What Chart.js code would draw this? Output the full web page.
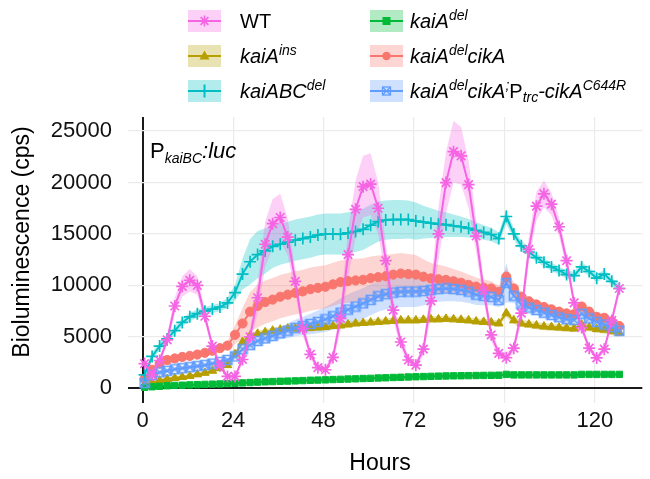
<!DOCTYPE html>
<html>
<head>
<meta charset="utf-8">
<script src="https://cdn.jsdelivr.net/npm/chart.js@4.4.1/dist/chart.umd.min.js"></script>
<style>
  html, body { margin: 0; padding: 0; background: #fff; }
  #wrap { position: relative; width: 650px; height: 479px; font-family: "Liberation Sans", Arial, sans-serif; color: #000; }
  #chart { position: absolute; left: 0; top: 0; }
  .key { position: absolute; width: 33px; height: 22px; }
  .lab { position: absolute; font-size: 20px; line-height: 22px; white-space: nowrap; }
  .lab sup { font-size: 14px; line-height: 0; vertical-align: 8px; }
  .lab sub { font-size: 14px; line-height: 0; vertical-align: -4px; }
  #note { position: absolute; left: 150px; top: 140px; font-size: 22px; line-height: 1; white-space: nowrap; }
  #note sub { font-size: 14px; line-height: 0; vertical-align: -5px; }
</style>
</head>
<body>
<div id="wrap">
  <canvas id="chart" width="650" height="479"></canvas>
  <div id="legend"></div>
  <div id="note">P<sub><i>kaiBC</i></sub><i>:luc</i></div>
</div>
<script>
// sampling times (hours)
const hours = [0.5,2.5,4.5,6.5,8.5,10.5,12.5,14.5,16.5,18.5,20.5,22.5,24.5,26.5,28.5,30.5,32.5,34.5,36.5,38.5,40.5,42.5,44.5,46.5,48.5,50.5,52.5,54.5,56.5,58.5,60.5,62.5,64.5,66.5,68.5,70.5,72.5,74.5,76.5,78.5,80.5,82.5,84.5,86.5,88.5,90.5,92.5,94.5,96.5,98.5,100.5,102.5,104.5,106.5,108.5,110.5,112.5,114.5,116.5,118.5,120.5,122.5,124.5,126.5];

// WT
const wtMean = [2400,1300,2700,4700,8000,9900,10500,10000,7000,4100,2200,1150,1150,2800,5000,8800,14000,16000,16600,14700,10400,5800,3300,2000,1800,3000,6800,13000,17400,19600,19850,17500,12400,7600,4500,2750,2250,3800,8500,15000,20000,23000,22600,19800,14800,9500,5200,3400,2970,3900,7300,13500,17700,18900,17900,15700,12400,8300,5900,3900,2950,3800,6600,9700];
const wtSd = [300,200,300,500,800,1000,1100,900,600,400,250,150,150,400,800,1500,2200,2400,2300,1800,1200,700,400,250,250,500,1200,2300,2800,3000,3000,2500,1700,1000,600,350,300,600,1500,2600,3000,3000,2800,2300,1600,1000,600,400,350,500,900,1300,1400,1300,1100,900,700,500,400,300,250,300,400,500];

// kaiA ins
const insMean = [300,550,750,900,1000,1100,1200,1350,1500,1700,1950,2250,3300,4500,5100,5300,5450,5600,5700,5800,5800,5850,5850,5900,5950,6050,6100,6200,6300,6350,6400,6450,6500,6550,6600,6600,6600,6650,6700,6700,6750,6700,6650,6600,6500,6450,6400,6300,7300,6600,6300,6200,6100,6000,5950,5900,5850,5800,6200,5900,5750,5700,5550,5400];
const insSd = [150,150,150,150,150,150,150,150,150,150,150,150,200,300,300,300,300,300,300,300,300,300,300,300,300,300,300,300,300,300,300,300,300,300,300,300,300,300,300,300,300,300,300,300,300,300,300,300,400,350,350,350,350,350,350,350,350,350,350,350,350,400,400,400];

// kaiABC del
const abcMean = [1300,3100,4100,4800,5600,6400,6950,7250,7500,7700,7900,8300,9300,11100,12300,13000,13350,13800,14000,14200,14400,14550,14700,14900,15000,15000,14980,15100,15250,15450,15850,16200,16350,16400,16400,16400,16250,16150,16050,15950,15900,15800,15700,15550,15350,15150,14950,14550,16700,15000,13850,13250,12700,12250,11800,11450,11050,10950,11800,11350,10700,11100,10400,9700];
const abcSd = [300,400,400,400,400,400,400,400,400,400,400,500,800,1500,2200,2300,2200,2100,2000,2000,2000,2000,2000,2000,2000,2000,2000,2000,2000,2000,2000,1950,1900,1900,1900,1850,1800,1600,1450,1300,1200,1100,1000,900,800,700,650,600,700,550,500,450,400,400,400,400,400,400,450,400,400,400,400,400];

// kaiA del
const delMean = [100,150,200,250,280,300,330,350,380,400,420,450,480,520,560,600,630,650,680,700,720,750,780,800,820,850,870,900,920,950,970,1000,1020,1050,1070,1100,1120,1140,1160,1180,1200,1210,1220,1230,1240,1250,1260,1270,1350,1300,1300,1300,1300,1300,1300,1300,1300,1300,1350,1350,1350,1350,1350,1350];
const delSd = [80,80,80,80,80,80,80,80,80,80,80,80,80,80,80,80,80,80,80,80,80,80,80,80,80,80,80,80,80,80,80,80,80,80,80,80,80,80,80,80,80,80,80,80,80,80,80,80,80,80,80,80,80,80,80,80,80,80,80,80,80,80,80,80];

// kaiA del cikA
const cikMean = [900,1800,2400,2750,2900,3050,3150,3280,3450,3650,3900,4150,5200,6300,7450,8000,8380,8620,8900,9100,9270,9420,9630,9760,9870,10100,10330,10420,10480,10550,10700,10800,10900,11050,11150,11100,11050,10850,10680,10600,10530,10400,10250,10050,9880,9780,9700,9380,10850,9700,8900,8450,8150,7900,7670,7450,7280,7200,7950,7450,6950,6850,6500,6050];
const cikSd = [300,300,300,300,300,300,300,300,300,300,300,400,900,1500,1900,2100,2100,2100,2100,2100,2100,2100,2100,2100,2100,2100,2100,2100,2100,2100,2100,2100,2050,2000,2000,1950,1900,1700,1500,1400,1300,1200,1100,1000,900,800,700,600,800,600,500,450,400,400,400,400,400,400,450,400,400,400,400,400];

// kaiA del cikA; Ptrc-cikA C644R
const c644Mean = [500,1300,1550,1700,1850,1950,2050,2150,2250,2400,2550,2750,3100,3800,4200,4600,4850,5100,5350,5600,5850,6050,6250,6450,6700,7000,7350,7650,7950,8250,8600,8950,9150,9300,9380,9400,9400,9450,9550,9650,9700,9650,9560,9400,9100,8980,8880,8570,10250,9000,8150,7850,7600,7350,7120,6900,6720,6650,7250,6800,6450,6200,5950,5600];
const c644Sd = [200,200,200,200,200,200,200,200,200,200,200,200,300,400,400,450,500,550,600,700,800,900,1000,1100,1200,1300,1400,1500,1500,1500,1500,1500,1500,1500,1500,1500,1500,1400,1300,1250,1250,1200,1150,1100,1000,900,800,700,1900,700,550,450,450,450,450,450,450,450,500,450,450,450,450,450];

// axis ticks
const xTicks = [0, 24, 48, 72, 96, 120];
const yTicks = [0, 5000, 10000, 15000, 20000, 25000];

const FONT = '"Liberation Sans", Arial, sans-serif';

// small square-with-X marker (for the C644R line)
function boxCross(color) {
    const c = document.createElement('canvas');
    c.width = 12; c.height = 12;
    const g = c.getContext('2d');
    g.strokeStyle = color;
    g.lineWidth = 1.5;
    g.strokeRect(1.5, 1.5, 9, 9);
    g.beginPath();
    g.moveTo(1.5, 1.5); g.lineTo(10.5, 10.5);
    g.moveTo(10.5, 1.5); g.lineTo(1.5, 10.5);
    g.stroke();
    return c;
}

const series = [
    { name: 'WT', mean: wtMean, sd: wtSd, color: '#F564E3', band: 'rgba(245,100,227,0.3)', style: 'star', r: 6, filled: false, order: 0,
      label: 'WT', col: 0, row: 0 },
    { name: 'kaiA-ins', mean: insMean, sd: insSd, color: '#B79F00', band: 'rgba(183,159,0,0.3)', style: 'triangle', r: 5, filled: true, order: 5,
      label: '<i>kaiA<sup>ins</sup></i>', col: 0, row: 1 },
    { name: 'kaiABC-del', mean: abcMean, sd: abcSd, color: '#00BFC4', band: 'rgba(0,191,196,0.3)', style: 'cross', r: 6, filled: false, order: 2,
      label: '<i>kaiABC<sup>del</sup></i>', col: 0, row: 2 },
    { name: 'kaiA-del', mean: delMean, sd: delSd, color: '#00BA38', band: 'rgba(0,186,56,0.3)', style: 'rect', r: 4.5, filled: true, order: 3,
      label: '<i>kaiA<sup>del</sup></i>', col: 1, row: 0 },
    { name: 'kaiA-del cikA', mean: cikMean, sd: cikSd, color: '#F8766D', band: 'rgba(248,118,109,0.3)', style: 'circle', r: 4.6, filled: true, order: 4,
      label: '<i>kaiA<sup>del</sup>cikA</i>', col: 1, row: 1 },
    { name: 'kaiA-del cikA; Ptrc-cikA C644R', mean: c644Mean, sd: c644Sd, color: '#619CFF', band: 'rgba(97,156,255,0.3)', style: 'boxcross', r: 4.5, filled: false, order: 1,
      label: '<i>kaiA<sup>del</sup>cikA<sup>;</sup></i>P<sub><i>trc</i></sub><i>-cikA<sup>C644R</sup></i>', col: 1, row: 2 }
];

// ribbons first (upper bound + lower bound filled to it), then the lines
const datasets = [];
series.forEach((s, i) => {
    datasets.push({
        label: s.name + ' upper',
        data: hours.map((h, k) => ({ x: h, y: s.mean[k] + s.sd[k] })),
        borderWidth: 0, pointRadius: 0, fill: false, order: 20 + i
    });
    datasets.push({
        label: s.name + ' lower',
        data: hours.map((h, k) => ({ x: h, y: s.mean[k] - s.sd[k] })),
        borderWidth: 0, pointRadius: 0, fill: '-1', backgroundColor: s.band, order: 20 + i
    });
});
series.forEach(s => {
    datasets.push({
        label: s.name,
        data: hours.map((h, k) => ({ x: h, y: s.mean[k] })),
        borderColor: s.color,
        backgroundColor: s.color,
        borderWidth: 2,
        tension: 0,
        fill: false,
        pointStyle: s.style === 'boxcross' ? boxCross(s.color) : s.style,
        pointRadius: s.r,
        pointBorderWidth: s.filled ? 1 : 1.7,
        pointBorderColor: s.color,
        pointBackgroundColor: s.filled ? s.color : 'rgba(0,0,0,0)',
        order: s.order
    });
});

// axis titles drawn on the canvas at the reference positions
const axisTitles = {
    id: 'axisTitles',
    afterDraw(chart) {
        const ctx = chart.ctx;
        ctx.save();
        ctx.fillStyle = '#000';
        ctx.font = '23px ' + FONT;
        ctx.textAlign = 'center';
        ctx.textBaseline = 'middle';
        ctx.fillText('Hours', 380, 464);
        ctx.translate(23, 242);
        ctx.rotate(-Math.PI / 2);
        ctx.fillText('Bioluminescence (cps)', 0, 0);
        ctx.restore();
    }
};

const gridColor = c => (c.tick && c.tick.value === 0) ? '#1a1a1a' : '#ebebeb';
const gridWidth = c => (c.tick && c.tick.value === 0) ? 2 : 1.2;

new Chart(document.getElementById('chart'), {
    type: 'line',
    data: { datasets: datasets },
    options: {
        responsive: false,
        animation: false,
        layout: { padding: { top: 117, left: 0, right: 0, bottom: 0 } },
        plugins: { legend: { display: false }, tooltip: { enabled: false } },
        scales: {
            x: {
                type: 'linear', min: -3.9, max: 132.6,
                afterBuildTicks: scale => { scale.ticks = xTicks.map(v => ({ value: v })); },
                afterFit: scale => { scale.height = 76; },
                ticks: { padding: 5, color: '#111', font: { family: FONT, size: 22 }, callback: v => String(v) },
                grid: { drawTicks: false, color: gridColor, lineWidth: gridWidth },
                border: { display: false }
            },
            y: {
                min: -1430, max: 26370,
                afterBuildTicks: scale => { scale.ticks = yTicks.map(v => ({ value: v })); },
                afterFit: scale => { scale.width = 128; },
                ticks: { padding: 16, color: '#111', font: { family: FONT, size: 22 }, callback: v => String(v) },
                grid: { drawTicks: false, color: gridColor, lineWidth: gridWidth },
                border: { display: false }
            }
        }
    },
    plugins: [axisTitles]
});

// legend (HTML so the super/subscripts render)
function keySvg(s) {
    const c = s.color;
    let m = '';
    if (s.style === 'star') {
        m = `<g stroke="${c}" stroke-width="1.6"><line x1="11" y1="11" x2="22" y2="11"/><line x1="16.5" y1="5.5" x2="16.5" y2="16.5"/><line x1="12.6" y1="7.1" x2="20.4" y2="14.9"/><line x1="20.4" y1="7.1" x2="12.6" y2="14.9"/></g>`;
    } else if (s.style === 'triangle') {
        m = `<polygon points="16.5,5.5 21.5,14.5 11.5,14.5" fill="${c}"/>`;
    } else if (s.style === 'cross') {
        m = `<line x1="16.5" y1="4.5" x2="16.5" y2="17.5" stroke="${c}" stroke-width="2"/>`;
    } else if (s.style === 'rect') {
        m = `<rect x="12.5" y="7" width="8" height="8" fill="${c}"/>`;
    } else if (s.style === 'circle') {
        m = `<circle cx="16.5" cy="11" r="4.2" fill="${c}"/>`;
    } else {
        m = `<g stroke="${c}" stroke-width="1.3" fill="none"><rect x="12.5" y="7" width="8" height="8"/><line x1="12.5" y1="7" x2="20.5" y2="15"/><line x1="20.5" y1="7" x2="12.5" y2="15"/></g>`;
    }
    return `<svg width="33" height="22" xmlns="http://www.w3.org/2000/svg"><rect width="33" height="22" fill="${s.band}"/><line x1="0" y1="11" x2="33" y2="11" stroke="${c}" stroke-width="2"/>${m}</svg>`;
}

const keyLeft = [188, 370];
const labLeft = [240, 410];
const rowTop = [9.5, 45, 80];
let html = '';
series.forEach(s => {
    html += `<div class="key" style="left:${keyLeft[s.col]}px;top:${rowTop[s.row]}px">${keySvg(s)}</div>`;
    html += `<div class="lab" style="left:${labLeft[s.col]}px;top:${rowTop[s.row]}px">${s.label}</div>`;
});
document.getElementById('legend').innerHTML = html;
</script>
</body>
</html>
